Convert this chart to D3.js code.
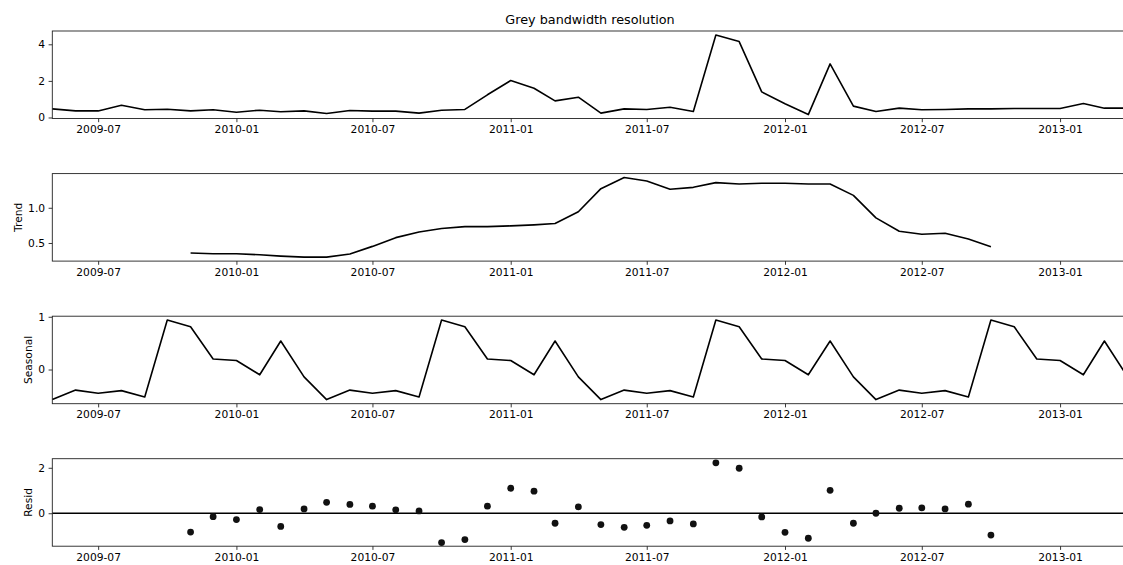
<!DOCTYPE html>
<html>
<head>
<meta charset="utf-8">
<script src="https://cdnjs.cloudflare.com/ajax/libs/d3/7.8.5/d3.min.js"></script>
<style>
body { margin: 0; background: #fff; }
text { font-family: "DejaVu Sans", sans-serif; fill: #000; }
</style>
</head>
<body>
<script>
// données (mensuel, 2009-05 -> 2013-04)
var months = [
  "2009-05","2009-06","2009-07","2009-08","2009-09","2009-10","2009-11","2009-12",
  "2010-01","2010-02","2010-03","2010-04","2010-05","2010-06","2010-07","2010-08","2010-09","2010-10","2010-11","2010-12",
  "2011-01","2011-02","2011-03","2011-04","2011-05","2011-06","2011-07","2011-08","2011-09","2011-10","2011-11","2011-12",
  "2012-01","2012-02","2012-03","2012-04","2012-05","2012-06","2012-07","2012-08","2012-09","2012-10","2012-11","2012-12",
  "2013-01","2013-02","2013-03","2013-04"
];

var observed = [
  0.47, 0.36, 0.36, 0.67, 0.42, 0.45, 0.36, 0.42,
  0.29, 0.40, 0.31, 0.36, 0.22, 0.38, 0.35, 0.35, 0.24, 0.40, 0.44, 1.24,
  2.02, 1.60, 0.91, 1.11, 0.24, 0.47, 0.44, 0.56, 0.33, 4.51, 4.15, 1.40,
  0.75, 0.16, 2.93, 0.62, 0.33, 0.51, 0.42, 0.44, 0.47, 0.47, 0.49, 0.49,
  0.49, 0.76, 0.51, 0.51
];

var trend = [
  null, null, null, null, null, null, 0.357, 0.348,
  0.348, 0.333, 0.314, 0.300, 0.300, 0.343, 0.452, 0.576, 0.657, 0.705, 0.733, 0.733,
  0.743, 0.757, 0.776, 0.943, 1.271, 1.429, 1.381, 1.262, 1.290, 1.357, 1.338, 1.348,
  1.348, 1.338, 1.338, 1.176, 0.857, 0.667, 0.624, 0.638, 0.557, 0.448, null, null,
  null, null, null, null
];

var seasonal = [
  -0.57, -0.39, -0.45, -0.40, -0.52, 0.94, 0.81, 0.20,
  0.17, -0.10, 0.54, -0.14, -0.57, -0.39, -0.45, -0.40, -0.52, 0.94, 0.81, 0.20,
  0.17, -0.10, 0.54, -0.14, -0.57, -0.39, -0.45, -0.40, -0.52, 0.94, 0.81, 0.20,
  0.17, -0.10, 0.54, -0.14, -0.57, -0.39, -0.45, -0.40, -0.52, 0.94, 0.81, 0.20,
  0.17, -0.10, 0.54, -0.14
];

var resid = [
  null, null, null, null, null, null, -0.83, -0.15,
  -0.28, 0.16, -0.58, 0.19, 0.48, 0.39, 0.31, 0.15, 0.10, -1.29, -1.16, 0.31,
  1.10, 0.97, -0.44, 0.28, -0.50, -0.62, -0.53, -0.34, -0.47, 2.22, 1.98, -0.16,
  -0.84, -1.10, 1.01, -0.44, 0.00, 0.22, 0.24, 0.19, 0.40, -0.96, null, null,
  null, null, null, null
];

var xTickLabels = ["2009-07","2010-01","2010-07","2011-01","2011-07","2012-01","2012-07","2013-01"];

var yTicksObserved = [0, 2, 4];
var yTicksTrend = [0.5, 1.0];
var yTicksSeasonal = [0, 1];
var yTicksResid = [0, 2];

var title = "Grey bandwidth resolution";

// mise en page
var width = 1123, height = 565;
var plotLeft = 52.3, plotRight = 1127.7;
var panelTops = [31, 173.6, 316.2, 458.7];
var panelH = 87.5;
var fontSize = 10.7;

var parse = d3.timeParse("%Y-%m");
var dates = months.map(parse);

var x = d3.scaleTime()
    .domain([dates[0], dates[dates.length - 1]])
    .range([plotLeft, plotRight]);

var panels = [
  {label: "", values: observed, domain: [-0.055, 4.727], ticks: yTicksObserved, fmt: d3.format("d"), kind: "line"},
  {label: "Trend", values: trend, domain: [0.243, 1.485], ticks: yTicksTrend, fmt: d3.format(".1f"), kind: "line"},
  {label: "Seasonal", values: seasonal, domain: [-0.648, 1.011], ticks: yTicksSeasonal, fmt: d3.format("d"), kind: "line"},
  {label: "Resid", values: resid, domain: [-1.45, 2.40], ticks: yTicksResid, fmt: d3.format("d"), kind: "dots"}
];

var svg = d3.select("body").append("svg")
    .attr("width", width)
    .attr("height", height);

svg.append("text")
    .attr("x", (plotLeft + plotRight) / 2)
    .attr("y", 24)
    .attr("text-anchor", "middle")
    .style("font-size", "12.8px")
    .text(title);

panels.forEach(function(p, i) {
  var top = panelTops[i];
  var y = d3.scaleLinear().domain(p.domain).range([top + panelH, top]);

  var g = svg.append("g").attr("class", "panel");

  var pts = dates.map(function(d, k) { return {date: d, v: p.values[k]}; })
      .filter(function(d) { return d.v !== null; });

  if (p.kind === "line") {
    var line = d3.line()
        .x(function(d) { return x(d.date); })
        .y(function(d) { return y(d.v); });
    g.append("path")
        .datum(pts)
        .attr("d", line)
        .attr("fill", "none")
        .attr("stroke", "#000")
        .attr("stroke-width", 1.6)
        .attr("stroke-linejoin", "round");
  } else {
    // ligne du zéro + résidus
    g.append("line")
        .attr("x1", plotLeft).attr("x2", plotRight)
        .attr("y1", y(0)).attr("y2", y(0))
        .attr("stroke", "#000")
        .attr("stroke-width", 1.6);
    g.selectAll("circle")
        .data(pts)
        .enter()
        .append("circle")
        .attr("cx", function(d) { return x(d.date); })
        .attr("cy", function(d) { return y(d.v); })
        .attr("r", 3.4)
        .attr("fill", "#111");
  }

  // cadre
  g.append("rect")
      .attr("x", plotLeft).attr("y", top)
      .attr("width", plotRight - plotLeft).attr("height", panelH)
      .attr("fill", "none")
      .attr("stroke", "#222")
      .attr("stroke-width", 0.9);

  var xAxis = d3.axisBottom(x)
      .tickValues(xTickLabels.map(parse))
      .tickFormat(d3.timeFormat("%Y-%m"))
      .tickSize(3.7)
      .tickPadding(3.5);

  var xg = g.append("g")
      .attr("transform", "translate(0," + (top + panelH) + ")")
      .call(xAxis);

  var yAxis = d3.axisLeft(y)
      .tickValues(p.ticks)
      .tickFormat(p.fmt)
      .tickSize(3.7)
      .tickPadding(3.5);

  var yg = g.append("g")
      .attr("transform", "translate(" + plotLeft + ",0)")
      .call(yAxis);

  [xg, yg].forEach(function(a) {
    a.select(".domain").remove();
    a.selectAll(".tick line").attr("stroke", "#222").attr("stroke-width", 0.9);
    a.selectAll(".tick text")
        .attr("font-family", "DejaVu Sans, sans-serif")
        .style("font-size", fontSize + "px")
        .attr("fill", "#000");
  });

  if (p.label) {
    var minX = 0;
    yg.selectAll(".tick text").each(function() {
      var b = this.getBBox();
      if (b.x < minX) minX = b.x;
    });
    var bx = plotLeft + minX - 5.8;
    svg.append("text")
        .attr("transform", "translate(" + bx + "," + (top + panelH / 2) + ") rotate(-90)")
        .attr("text-anchor", "middle")
        .style("font-size", fontSize + "px")
        .text(p.label);
  }
});
</script>
</body>
</html>
